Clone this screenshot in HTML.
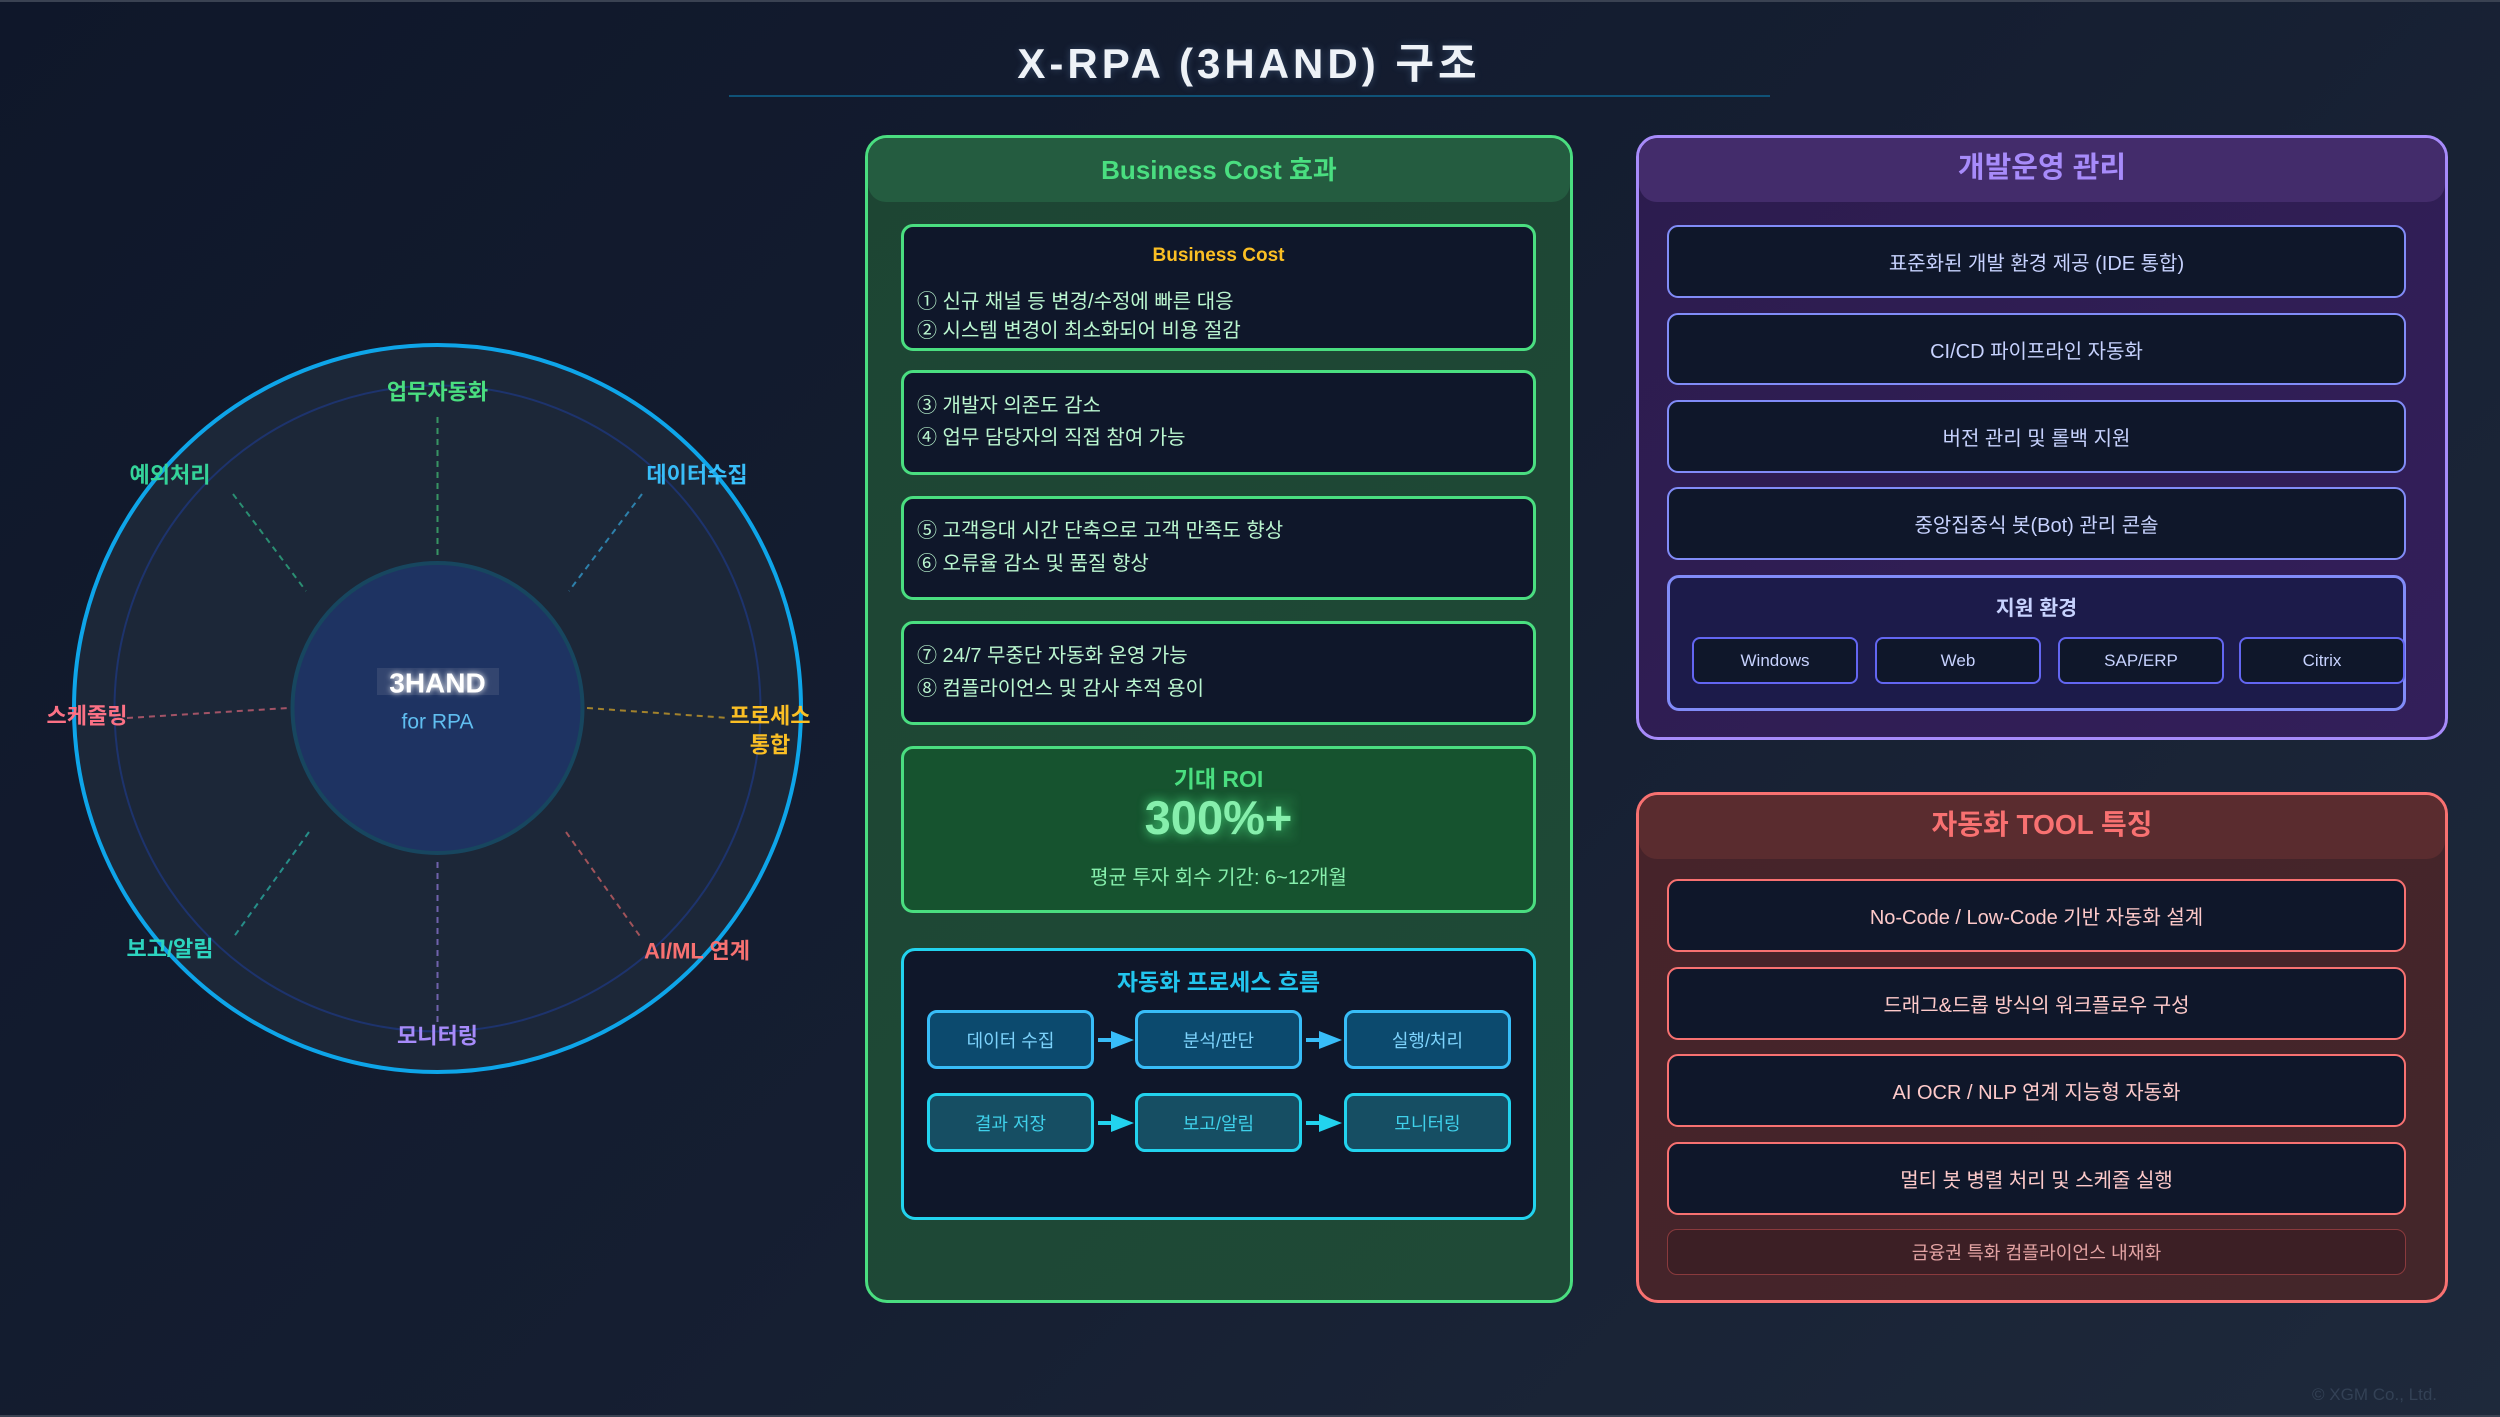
<!DOCTYPE html>
<html><head><meta charset="utf-8">
<style>
*{margin:0;padding:0;box-sizing:border-box}
html,body{width:2500px;height:1417px;overflow:hidden;background:#0f172a}
body{font-family:"Liberation Sans","Noto Sans CJK KR",sans-serif}
#root{position:absolute;left:0;top:0;width:2500px;height:1417px;background:linear-gradient(135deg,#0f172a 0%,#151e31 50%,#1e293b 100%);overflow:hidden}
.abs{position:absolute}
.c{position:absolute;text-align:center;white-space:nowrap}
.panel{position:absolute;border:3px solid;border-radius:22px}
.band{position:absolute;border-radius:19px 19px 18px 18px}
.box{position:absolute;border:3px solid;border-radius:12px;background:#0f172a;display:flex;align-items:center;justify-content:center;white-space:nowrap}
.ln{position:absolute;left:917px;height:30px;line-height:30px;font-size:20px;color:#bbf7d0;white-space:nowrap}
.pi{border-width:2.5px;border-color:#818cf8;font-size:20px;color:#c7d2fe;border-radius:11px}
.ri{border-width:2.5px;border-color:#f87171;font-size:20px;color:#fecaca;border-radius:11px}
.chip{position:absolute;top:637px;height:47px;width:166px;border:2px solid #6366f1;border-radius:8px;background:#0f172a;color:#c7d2fe;font-size:17px;display:flex;align-items:center;justify-content:center}
.fi{position:absolute;width:167px;height:59px;border:3px solid;border-radius:10px;display:flex;align-items:center;justify-content:center;font-size:18px;white-space:nowrap}
.r1{top:1010px;background:#0c4a6e;border-color:#38bdf8;color:#7dd3fc}
.r2{top:1093px;background:#164e63;border-color:#22d3ee;color:#3fd0ea}
</style></head>
<body><div id="root">

<div class="abs" style="left:0;top:0;width:2500px;height:2px;background:#3a4252"></div>
<div class="abs" style="left:0;top:1415px;width:2500px;height:2px;background:#3a4252"></div>

<!-- Title -->
<div class="c" style="left:0;width:2498px;top:40px;height:48px;line-height:48px;font-size:42px;font-weight:bold;letter-spacing:4px;color:#eef2f7;text-shadow:0 0 8px rgba(148,197,255,0.25)">X-RPA (3HAND) 구조</div>
<div class="abs" style="left:729px;top:95px;width:1041px;height:2px;background:#0f5277"></div>

<!-- Circle diagram -->
<svg class="abs" style="left:0;top:0" width="900" height="1417" viewBox="0 0 900 1417">
  <defs>
    <filter id="glow" x="-30%" y="-60%" width="160%" height="220%">
      <feGaussianBlur stdDeviation="3" result="b"/>
      <feMerge><feMergeNode in="b"/><feMergeNode in="SourceGraphic"/></feMerge>
    </filter>
  </defs>
  <circle cx="437.5" cy="708.5" r="363.5" fill="#1c2738" stroke="#0ea5e9" stroke-width="4"/>
  <circle cx="437.5" cy="708.5" r="323" fill="none" stroke="#1e3a8a" stroke-opacity="0.65" stroke-width="2"/>
  <g stroke-width="2" stroke-dasharray="6 5" stroke-opacity="0.6" fill="none">
    <line x1="437.5" y1="417" x2="437.5" y2="559" stroke="#4ade80"/>
    <line x1="642" y1="494" x2="569" y2="591" stroke="#38bdf8"/>
    <line x1="233" y1="494" x2="306" y2="591" stroke="#34d399"/>
    <line x1="127" y1="718" x2="288" y2="708" stroke="#fb7185"/>
    <line x1="587" y1="708" x2="729" y2="718" stroke="#fbbf24"/>
    <line x1="309" y1="832" x2="233" y2="938" stroke="#2dd4bf"/>
    <line x1="437.5" y1="862" x2="437.5" y2="1026" stroke="#a78bfa"/>
    <line x1="566" y1="832" x2="642" y2="939" stroke="#f87171"/>
  </g>
  <circle cx="437.5" cy="708" r="145" fill="#1e3362" stroke="#17465f" stroke-width="4"/>
  <rect x="377" y="668" width="122" height="27" fill="#33456f"/>
  <text x="437.5" y="683" text-anchor="middle" dominant-baseline="central" font-family="Liberation Sans, sans-serif" font-weight="bold" font-size="28" fill="#ffffff" filter="url(#glow)">3HAND</text>
  <text x="437.5" y="722" text-anchor="middle" dominant-baseline="central" font-family="Liberation Sans, sans-serif" font-size="21" fill="#60bef0">for RPA</text>
  <g font-family="Liberation Sans, Noto Sans CJK KR, sans-serif" font-weight="bold" font-size="22" text-anchor="middle" dominant-baseline="central">
    <text x="437.5" y="392" fill="#4ade80">업무자동화</text>
    <text x="697" y="475" fill="#38bdf8">데이터수집</text>
    <text x="170" y="475" fill="#34d399">예외처리</text>
    <text x="87" y="716" fill="#fb7185">스케줄링</text>
    <text x="770" y="716" fill="#fbbf24">프로세스</text>
    <text x="770" y="745" fill="#fbbf24">통합</text>
    <text x="170" y="949" fill="#2dd4bf">보고/알림</text>
    <text x="697" y="951" fill="#f87171">AI/ML 연계</text>
    <text x="437.5" y="1036" fill="#a78bfa">모니터링</text>
  </g>
</svg>

<!-- Green panel -->
<div class="panel" style="left:865px;top:135px;width:708px;height:1168px;border-color:#4ade80;background:linear-gradient(135deg,#1d4533 0%,#1f4a37 100%)"></div>
<div class="band" style="left:868px;top:138px;width:702px;height:64px;background:#245c40"></div>
<div class="c" style="left:865px;width:708px;top:153px;height:34px;line-height:34px;font-size:26px;font-weight:bold;color:#4ade80">Business Cost 효과</div>

<div class="box" style="left:901px;top:224px;width:635px;height:127px;border-color:#4ade80"></div>
<div class="c" style="left:901px;width:635px;top:241px;height:30px;line-height:30px;font-size:19px;font-weight:bold;color:#fbbf24">Business Cost</div>
<div class="ln" style="top:287px">① 신규 채널 등 변경/수정에 빠른 대응</div>
<div class="ln" style="top:316px">② 시스템 변경이 최소화되어 비용 절감</div>

<div class="box" style="left:901px;top:370px;width:635px;height:105px;border-color:#4ade80"></div>
<div class="ln" style="top:391px">③ 개발자 의존도 감소</div>
<div class="ln" style="top:423px">④ 업무 담당자의 직접 참여 가능</div>

<div class="box" style="left:901px;top:496px;width:635px;height:104px;border-color:#4ade80"></div>
<div class="ln" style="top:516px">⑤ 고객응대 시간 단축으로 고객 만족도 향상</div>
<div class="ln" style="top:549px">⑥ 오류율 감소 및 품질 향상</div>

<div class="box" style="left:901px;top:621px;width:635px;height:104px;border-color:#4ade80"></div>
<div class="ln" style="top:641px">⑦ 24/7 무중단 자동화 운영 가능</div>
<div class="ln" style="top:674px">⑧ 컴플라이언스 및 감사 추적 용이</div>

<div class="box" style="left:901px;top:746px;width:635px;height:167px;border-color:#4ade80;background:#16532f"></div>
<div class="c" style="left:901px;width:635px;top:765px;height:28px;line-height:28px;font-size:23px;font-weight:bold;color:#4ade80">기대 ROI</div>
<div class="abs" style="left:1145px;top:796px;width:150px;height:44px;background:rgba(74,222,128,0.10);filter:blur(4px)"></div>
<div class="c" style="left:901px;width:635px;top:792px;height:52px;line-height:52px;font-size:47px;font-weight:bold;color:#86efac;text-shadow:0 0 10px rgba(74,222,128,0.75)">300%+</div>
<div class="c" style="left:901px;width:635px;top:864px;height:28px;line-height:28px;font-size:20px;color:#86efac">평균 투자 회수 기간: 6~12개월</div>

<div class="box" style="left:901px;top:948px;width:635px;height:272px;border-color:#22d3ee;border-radius:14px"></div>
<div class="c" style="left:901px;width:635px;top:967px;height:30px;line-height:30px;font-size:23px;font-weight:bold;color:#22c5ee">자동화 프로세스 흐름</div>

<div class="fi r1" style="left:927px">데이터 수집</div>
<div class="fi r1" style="left:1135px">분석/판단</div>
<div class="fi r1" style="left:1344px">실행/처리</div>
<div class="fi r2" style="left:927px">결과 저장</div>
<div class="fi r2" style="left:1135px">보고/알림</div>
<div class="fi r2" style="left:1344px">모니터링</div>
<svg class="abs" style="left:0;top:0" width="2500" height="1417" viewBox="0 0 2500 1417">
  <g fill="#38bdf8" stroke="#38bdf8">
    <line x1="1098" y1="1040" x2="1114" y2="1040" stroke-width="4"/>
    <polygon points="1111,1031 1134,1040 1111,1049" stroke="none"/>
    <line x1="1306" y1="1040" x2="1322" y2="1040" stroke-width="4"/>
    <polygon points="1319,1031 1342,1040 1319,1049" stroke="none"/>
  </g>
  <g fill="#22d3ee" stroke="#22d3ee">
    <line x1="1098" y1="1123" x2="1114" y2="1123" stroke-width="4"/>
    <polygon points="1111,1114 1134,1123 1111,1132" stroke="none"/>
    <line x1="1306" y1="1123" x2="1322" y2="1123" stroke-width="4"/>
    <polygon points="1319,1114 1342,1123 1319,1132" stroke="none"/>
  </g>
</svg>

<!-- Purple panel -->
<div class="panel" style="left:1636px;top:135px;width:812px;height:605px;border-color:#a78bfa;background:linear-gradient(135deg,#2c1c4e 0%,#331f5a 100%)"></div>
<div class="band" style="left:1639px;top:138px;width:806px;height:64px;background:#432c6b"></div>
<div class="c" style="left:1636px;width:812px;top:150px;height:36px;line-height:36px;font-size:29px;font-weight:bold;color:#a78bfa">개발운영 관리</div>

<div class="box pi" style="left:1667px;top:225px;width:739px;height:73px">표준화된 개발 환경 제공 (IDE 통합)</div>
<div class="box pi" style="left:1667px;top:313px;width:739px;height:72px">CI/CD 파이프라인 자동화</div>
<div class="box pi" style="left:1667px;top:400px;width:739px;height:73px">버전 관리 및 롤백 지원</div>
<div class="box pi" style="left:1667px;top:487px;width:739px;height:73px">중앙집중식 봇(Bot) 관리 콘솔</div>
<div class="box" style="left:1667px;top:575px;width:739px;height:136px;border-color:#818cf8;background:#1c1b4a;border-radius:12px"></div>
<div class="c" style="left:1667px;width:739px;top:595px;height:28px;line-height:28px;font-size:20.5px;font-weight:bold;color:#c7d2fe">지원 환경</div>
<div class="chip" style="left:1692px">Windows</div>
<div class="chip" style="left:1875px">Web</div>
<div class="chip" style="left:2058px">SAP/ERP</div>
<div class="chip" style="left:2239px">Citrix</div>

<!-- Red panel -->
<div class="panel" style="left:1636px;top:792px;width:812px;height:511px;border-color:#f87171;background:linear-gradient(135deg,#46232a 0%,#44262a 100%)"></div>
<div class="band" style="left:1639px;top:795px;width:806px;height:64px;background:#5a2c2f"></div>
<div class="c" style="left:1636px;width:812px;top:807px;height:36px;line-height:36px;font-size:28px;font-weight:bold;color:#f87171">자동화 TOOL 특징</div>

<div class="box ri" style="left:1667px;top:879px;width:739px;height:73px">No-Code / Low-Code 기반 자동화 설계</div>
<div class="box ri" style="left:1667px;top:967px;width:739px;height:73px">드래그&amp;드롭 방식의 워크플로우 구성</div>
<div class="box ri" style="left:1667px;top:1054px;width:739px;height:73px">AI OCR / NLP 연계 지능형 자동화</div>
<div class="box ri" style="left:1667px;top:1142px;width:739px;height:73px">멀티 봇 병렬 처리 및 스케줄 실행</div>
<div class="box" style="left:1667px;top:1229px;width:739px;height:46px;border:1.5px solid #8a3a3d;background:#3c1f25;border-radius:10px;font-size:18.2px;color:#e3a3a3">금융권 특화 컴플라이언스 내재화</div>

<!-- Watermark -->
<div class="abs" style="left:2237px;top:1383px;width:200px;height:24px;line-height:24px;text-align:right;font-size:17px;color:#334155;white-space:nowrap">© XGM Co., Ltd.</div>

</div></body></html>
